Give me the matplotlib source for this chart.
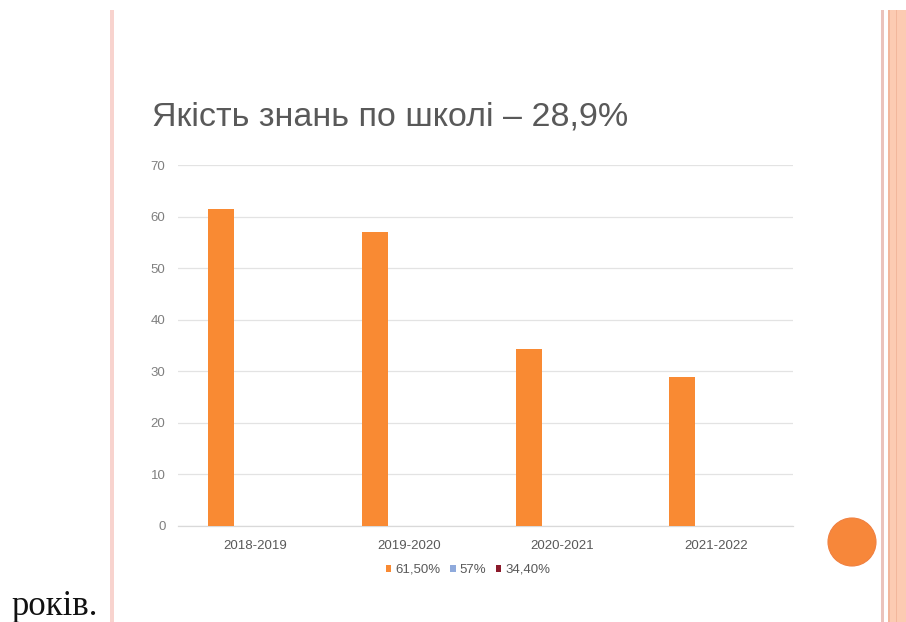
import matplotlib
matplotlib.use("Agg")
import matplotlib.pyplot as plt
import numpy as np
from matplotlib.patches import Rectangle, Circle, Patch

plt.rcParams['font.family'] = ['Liberation Sans', 'DejaVu Sans']

categories = ['2018-2019', '2019-2020', '2020-2021', '2021-2022']
series_names = ['61,50%', '57%', '34,40%']
series1 = [61.5, 57.0, 34.4, 28.9]
series2 = [np.nan, np.nan, np.nan, np.nan]
series3 = [np.nan, np.nan, np.nan, np.nan]
y_ticks = [0, 10, 20, 30, 40, 50, 60, 70]
title = 'Якість знань по школі – 28,9%'
footer = 'років.'

colors = ['#F98A33', '#8FAADC', '#8B1A2B']

W, H = 906, 622
fig = plt.figure(figsize=(W / 100, H / 100), dpi=100)
fig.patch.set_facecolor('white')

def fx(px):
    return px / W

def fy(py):
    return 1 - py / H

# slide borders
fig.patches.append(Rectangle((fx(110), 0), fx(3.5), fy(10), transform=fig.transFigure,
                             facecolor='#F8D3CE', edgecolor='none'))
fig.patches.append(Rectangle((fx(881), 0), fx(2.5), fy(10), transform=fig.transFigure,
                             facecolor='#EBC3BC', edgecolor='none'))
fig.patches.append(Rectangle((fx(888), 0), fx(18), fy(10), transform=fig.transFigure,
                             facecolor='#FCCBB2', edgecolor='none'))
fig.patches.append(Rectangle((fx(888), 0), fx(1.5), fy(10), transform=fig.transFigure,
                             facecolor='#F2B79C', edgecolor='none'))
fig.patches.append(Rectangle((fx(896), 0), fx(1.2), fy(10), transform=fig.transFigure,
                             facecolor='#F2B79C', edgecolor='none'))

# axes
left, right, top, bottom = 178, 793, 165, 526
ax = fig.add_axes([fx(left), fy(bottom), fx(right - left), (bottom - top) / H])
x = np.arange(len(categories))
bw = 0.169
offsets = [-0.22, 0.0, 0.22]
for s, off, c, name in zip([series1, series2, series3], offsets, colors, series_names):
    ax.bar(x + off, s, width=bw, color=c, label=name, zorder=3)

ax.set_xlim(-0.5, len(categories) - 0.5)
ax.set_ylim(0, 70)
ax.set_yticks(y_ticks)
ax.set_xticks(x)
ax.set_xticklabels(categories, fontsize=9.5, color='#595959')
ax.tick_params(axis='y', labelsize=9.5, labelcolor='#7F7F7F', length=0, pad=9)
ax.tick_params(axis='x', length=0, pad=10)
ax.grid(axis='y', color='#E3E3E3', linewidth=0.9, zorder=0)
for sp in ['top', 'right', 'left']:
    ax.spines[sp].set_visible(False)
ax.spines['bottom'].set_color('#D9D9D9')
ax.spines['bottom'].set_linewidth(0.9)
ax.set_facecolor('none')

# legend
handles = [Patch(facecolor=c, edgecolor='none') for c in colors]
fig.legend(handles, series_names, loc='center', bbox_to_anchor=(fx(468), fy(570)),
           ncol=3, frameon=False, fontsize=9.5, labelcolor='#595959',
           handlelength=0.45, handleheight=0.45, handletextpad=0.3, columnspacing=0.7)

# title
fig.text(fx(152), fy(126), title, fontsize=24.5, color='#595959', ha='left', va='baseline')

# circle (in inches so it stays round)
fig.patches.append(Circle((852 / 100, (H - 542) / 100), 0.24, transform=fig.dpi_scale_trans,
                          facecolor='#F7873A', edgecolor='#F08040', linewidth=0.8))

# footer
fig.text(fx(11), fy(615), footer, fontsize=25, color='#111111', ha='left', va='baseline',
         family=['Liberation Serif', 'DejaVu Serif'])

fig.savefig('out.png', dpi=100)
